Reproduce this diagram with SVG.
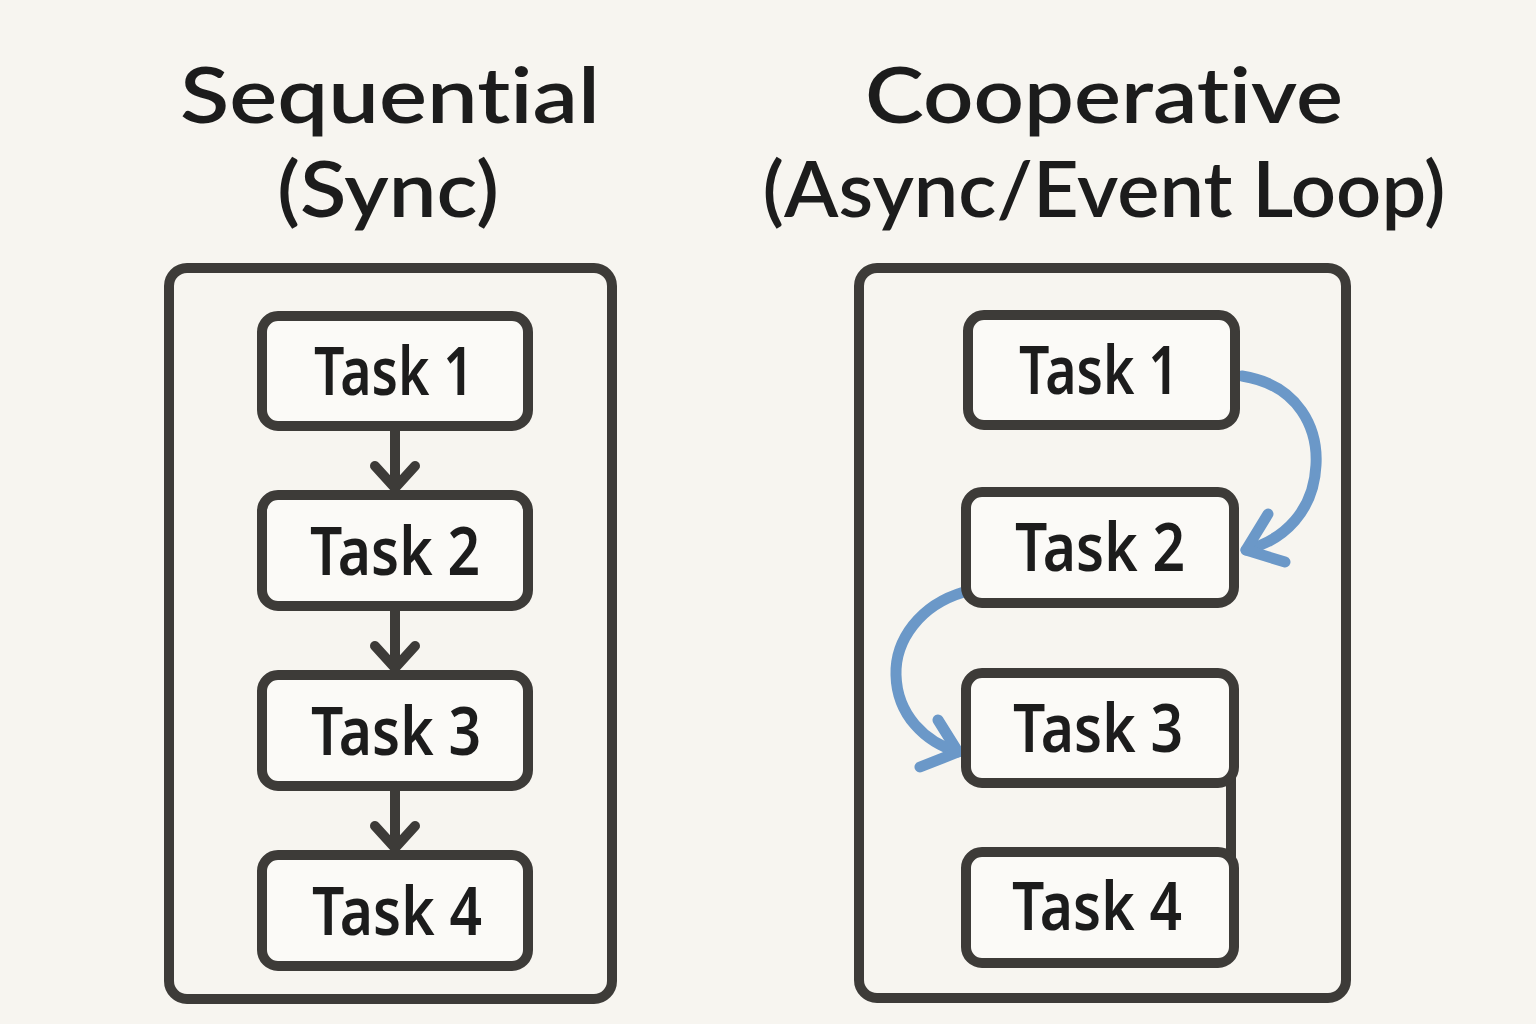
<svg xmlns="http://www.w3.org/2000/svg" width="1536" height="1024" viewBox="0 0 1536 1024">
<style>
.title{font-family:Lato,"Noto Sans",sans-serif;font-size:76px;font-weight:600;fill:#1c1c1c;text-anchor:middle;font-variant-ligatures:none;font-feature-settings:"liga" 0,"dlig" 0}
.frame{fill:none;stroke:#3d3b38;stroke-width:10}
.box{fill:#fbfaf7;stroke:#3d3b38;stroke-width:10}
.lbl{font-family:"Noto Sans","Open Sans",sans-serif;font-size:66px;font-weight:600;fill:#1c1c1c;text-anchor:middle}
.seq{fill:none;stroke:#3d3b38;stroke-width:10;stroke-linecap:round;stroke-linejoin:round}
.blue{fill:none;stroke:#6b98c8;stroke-width:11;stroke-linecap:round;stroke-linejoin:round}
</style>
<rect width="1536" height="1024" fill="#f7f5f0"/>
<text class="title" x="390" y="123" textLength="420" lengthAdjust="spacingAndGlyphs">Sequential</text>
<text class="title" x="388" y="217" textLength="222" lengthAdjust="spacingAndGlyphs">(Sync)</text>
<text class="title" x="1104" y="123" textLength="478" lengthAdjust="spacingAndGlyphs">Cooperative</text>
<text class="title" x="1104" y="217" textLength="683" lengthAdjust="spacingAndGlyphs">(Async/Event Loop)</text>

<g id="left-panel"><rect class="frame" x="169" y="268" width="443" height="731" rx="18"/></g>
<g id="right-panel"><rect class="frame" x="859" y="268" width="487" height="730" rx="18"/></g>

<g id="connectors">
<path class="seq" d="M395 428V488M375 466L395 488L415 466"/>
<path class="seq" d="M395 607V668M375 646L395 668L415 646"/>
<path class="seq" d="M395 787V848M375 826L395 848L415 826"/>
<path class="seq" d="M1231 775V860"/>
<path class="blue" d="M1242 376C1300 385 1318 430 1316 465C1314 510 1285 540 1246 550"/>
<path class="blue" d="M1268 514L1246 550L1285 562"/>
<path class="blue" d="M964 592C920 605 895 640 896 675C897 715 925 742 958 752"/>
<path class="blue" d="M938 720L958 752L920 767"/>
</g>

<g id="s-task1"><rect class="box" x="262" y="316" width="266" height="110" rx="16"/><text class="lbl" x="394" y="395" textLength="160" lengthAdjust="spacingAndGlyphs">Task 1</text></g>
<g id="s-task2"><rect class="box" x="262" y="495" width="266" height="111" rx="16"/><text class="lbl" x="395" y="575" textLength="170" lengthAdjust="spacingAndGlyphs">Task 2</text></g>
<g id="s-task3"><rect class="box" x="262" y="675" width="266" height="111" rx="16"/><text class="lbl" x="396" y="755" textLength="170" lengthAdjust="spacingAndGlyphs">Task 3</text></g>
<g id="s-task4"><rect class="box" x="262" y="855" width="266" height="111" rx="16"/><text class="lbl" x="397" y="935" textLength="170" lengthAdjust="spacingAndGlyphs">Task 4</text></g>

<g id="c-task1"><rect class="box" x="968" y="315" width="267" height="110" rx="16"/><text class="lbl" x="1099" y="394" textLength="160" lengthAdjust="spacingAndGlyphs">Task 1</text></g>
<g id="c-task2"><rect class="box" x="966" y="492" width="268" height="111" rx="16"/><text class="lbl" x="1100" y="571" textLength="170" lengthAdjust="spacingAndGlyphs">Task 2</text></g>
<g id="c-task3"><rect class="box" x="966" y="673" width="268" height="110" rx="16"/><text class="lbl" x="1098" y="752" textLength="170" lengthAdjust="spacingAndGlyphs">Task 3</text></g>
<g id="c-task4"><rect class="box" x="966" y="852" width="268" height="111" rx="16"/><text class="lbl" x="1097" y="930" textLength="170" lengthAdjust="spacingAndGlyphs">Task 4</text></g>
</svg>
